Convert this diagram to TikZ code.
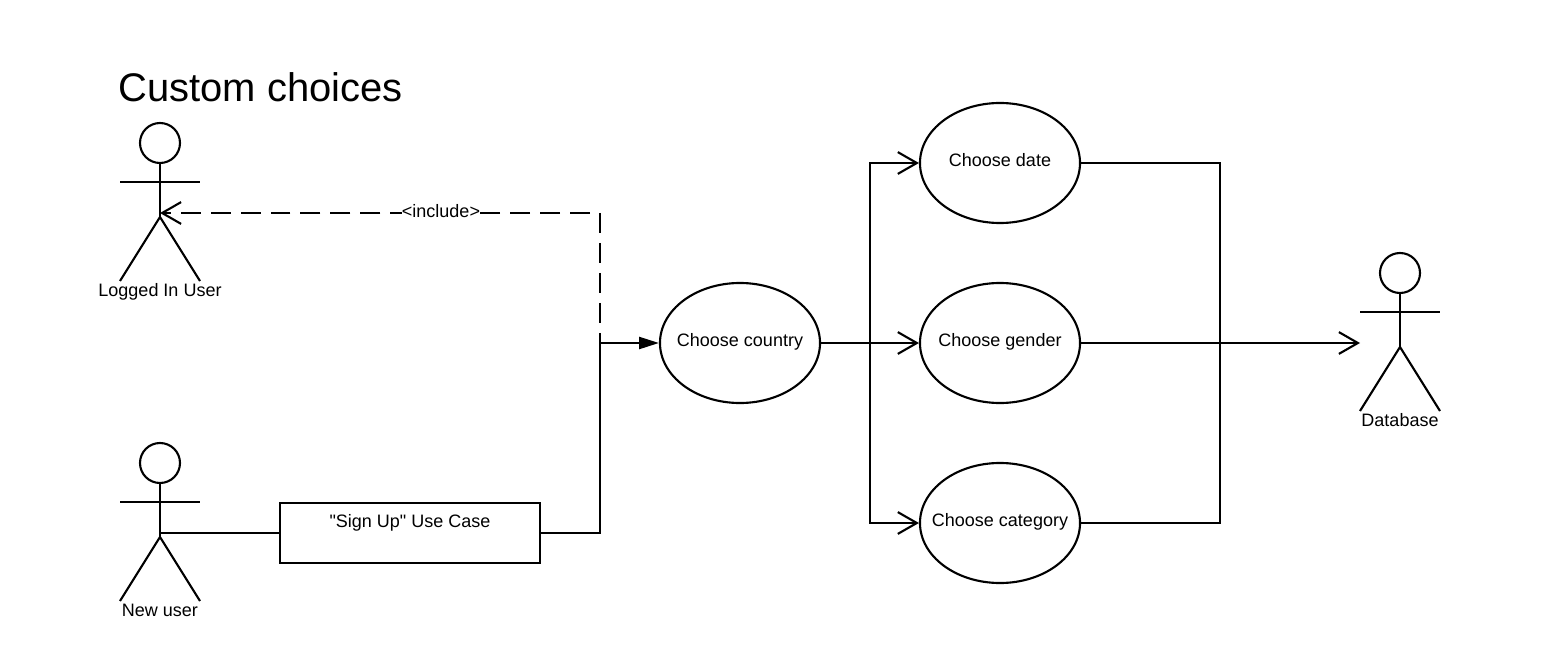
\documentclass[tikz,border=0pt]{standalone}
\usepackage{fontspec}
\setmainfont{Liberation Sans}
\usetikzlibrary{arrows.meta, shapes.geometric}

\tikzset{
    usecase/.style={draw, ellipse, minimum width=4cm, minimum height=3cm, inner xsep=-30pt, inner ysep=0pt, font=\fontsize{12.8}{15}\selectfont, text height=10pt, text depth=4.4pt},
    casebox/.style={draw, rectangle, minimum width=6.5cm, minimum height=1.5cm, inner sep=0pt, font=\fontsize{12.8}{15}\selectfont, text height=10pt, text depth=17.8pt},
    small/.style={font=\fontsize{12.8}{15}\selectfont, inner sep=0pt},
    openarrow/.style={-{Straight Barb[length=13.5pt, width=15.5pt]}},
    solidarrow/.style={-{Triangle[length=14pt, width=8.5pt]}},
    includeline/.style={dash pattern=on 14.2pt off 7.1pt},
    pics/actor/.style={code={
        \node[draw, circle, minimum size=1cm, inner sep=0pt] (-head) at (0,0) {};
        \coordinate (-hip) at (0,74); \coordinate (-hand) at (0,70); \coordinate (-reach) at (-40,70);
        \draw (-head) -- (-hip);
        \draw (-40,39) -- (40,39);
        \draw (-40,138) -- (-hip) -- (40,138);
        \node[small, text height=9.5pt, text depth=3pt] (-name) at (0,149) {#1};
    }}
}

\begin{document}
\begin{tikzpicture}[x=0.025cm, y=-0.025cm, line width=1.5pt]
    \useasboundingbox (0,0) rectangle (1560,663);
    \node[anchor=west, inner sep=0pt, font=\fontsize{28.4}{34}\selectfont] (title) at (117.5,87) {Custom choices};

    \pic (logged) at (160,143) {actor={Logged In User}};
    \pic (newuser) at (160,463) {actor={New user}};
    \pic (database) at (1400,273) {actor={Database}};

    \node[casebox] (signup) at (410,533) {\textquotedbl Sign Up\textquotedbl{} Use Case};
    \node[usecase] (country) at (740,343) {Choose country};
    \node[usecase] (date) at (1000,163) {Choose date};
    \node[usecase] (gender) at (1000,343) {Choose gender};
    \node[usecase] (category) at (1000,523) {Choose category};

    \coordinate (join) at (600,343); \coordinate (corner) at (600,213);
    \coordinate (split) at (870,343); \coordinate (merge) at (1220,343);

    \draw (newuser-hand) -- (signup.west |- newuser-hand);
    \draw (signup.east |- newuser-hand) -| (join);
    \draw[solidarrow] (join) -- (country.west);

    \draw[includeline] (corner) -- (join);
    \draw[includeline, dash phase=14.2pt, openarrow] (corner) -- (logged-hand);
    \node[small, fill=white] (include) at (441,211) {<include>};

    \draw[openarrow] (country.east) -- (gender.west);
    \draw[openarrow] (split) |- (date.west);
    \draw[openarrow] (split) |- (category.west);

    \draw (date.east) -| (merge);
    \draw (category.east) -| (merge);
    \draw[openarrow] (gender.east) -- (database-reach);
\end{tikzpicture}
\end{document}
